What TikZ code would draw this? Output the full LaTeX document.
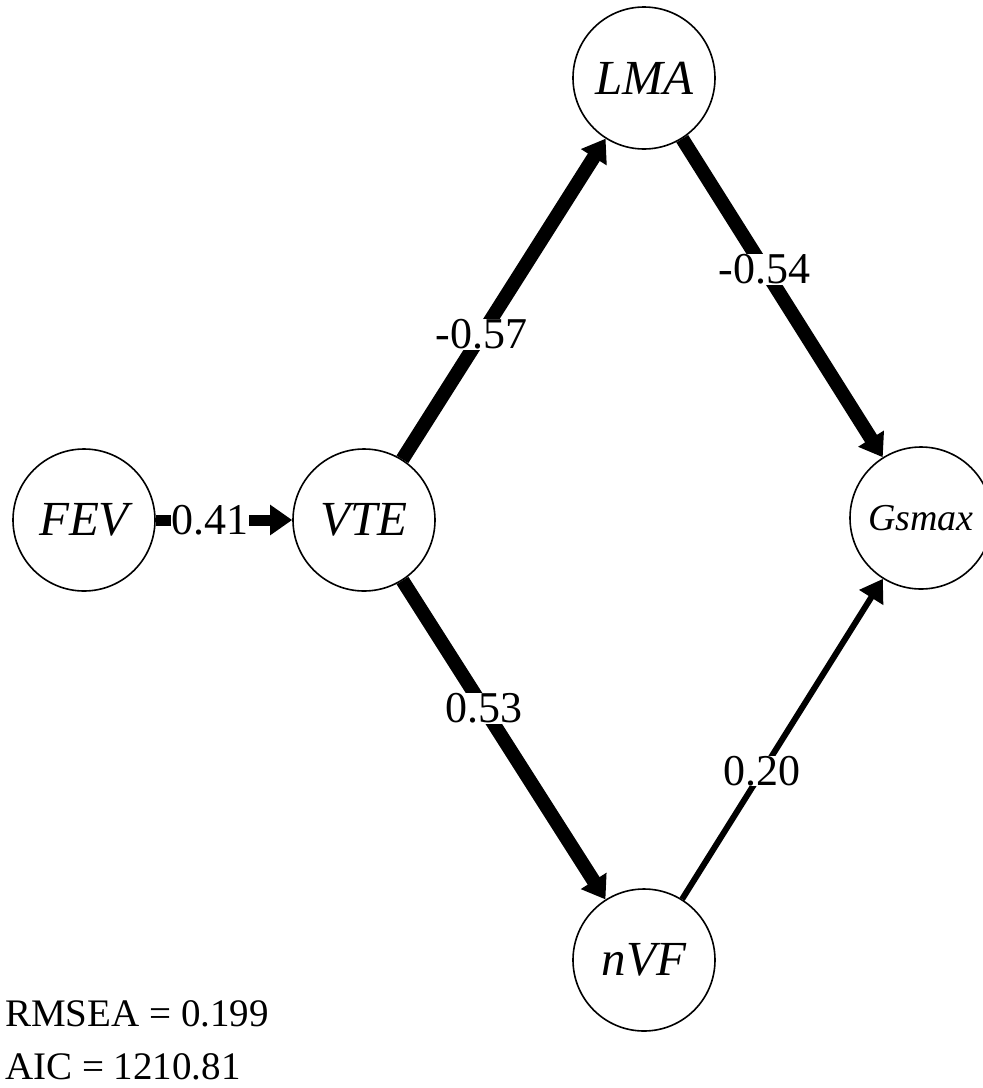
\documentclass[tikz,border=0pt]{standalone}
\usepackage{fontspec}
\setmainfont{Liberation Serif}
\usetikzlibrary{arrows.meta}
\begin{document}
\begin{tikzpicture}[x=1pt,y=-1pt,
  var/.style={circle,draw,line width=1.6pt,minimum size=142pt,inner sep=0pt,
    font=\fontsize{49}{58}\selectfont\itshape},
  heavyedge/.style={line width=14pt,-{Triangle[length=22pt,width=29pt]}},
  midedge/.style={line width=11pt,-{Triangle[length=22pt,width=29pt]}},
  lightedge/.style={line width=6pt,-{Triangle[length=22pt,width=27pt]}},
  lab/.style={fill=white,inner sep=0.5pt,font=\fontsize{44}{52}\selectfont},
  fit/.style={anchor=base west,inner sep=0pt,font=\fontsize{39}{46}\selectfont}]
\useasboundingbox (0,0) rectangle (983,1088);
\node[var] (FEV) at (84,520) {FEV};
\node[var] (VTE) at (364,520) {VTE};
\node[var] (LMA) at (644,78) {LMA};
\node[var] (Gs) at (921,518) {\fontsize{38}{44}\selectfont Gsmax};
\node[var] (nVF) at (644,960) {nVF};
\draw[midedge] (FEV) -- node[lab,pos=0.4] {0.41} (VTE);
\draw[heavyedge] (VTE) -- node[lab,pos=0.39] {-0.57} (LMA);
\draw[heavyedge] (LMA) -- node[lab,pos=0.41] {-0.54} (Gs);
\draw[heavyedge] (VTE) -- node[lab,pos=0.40] {0.53} (nVF);
\draw[lightedge] (nVF) -- node[lab,pos=0.40] {0.20} (Gs);
\node[fit] (rmsea) at (5,1026) {RMSEA = 0.199};
\node[fit] (aic) at (5,1079) {AIC = 1210.81};
\end{tikzpicture}
\end{document}
